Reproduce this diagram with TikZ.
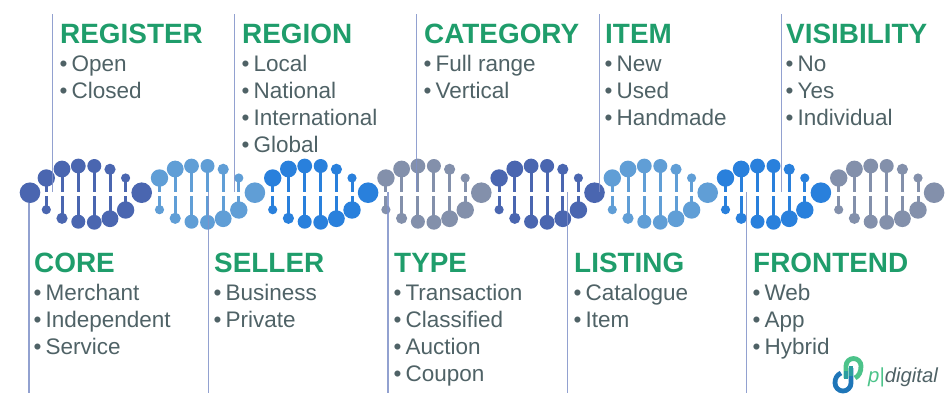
\documentclass[tikz,border=0pt]{standalone}
\usepackage{fontspec}
\setmainfont{Liberation Sans}
\usetikzlibrary{positioning}
\definecolor{dnaDark}{HTML}{4A66B0}
\definecolor{dnaLight}{HTML}{609ED6}
\definecolor{dnaBlue}{HTML}{2980DC}
\definecolor{dnaGrey}{HTML}{8390AB}
\definecolor{headGreen}{HTML}{1F9D6B}
\definecolor{itemGrey}{HTML}{4F6266}
\definecolor{tickBlue}{HTML}{7F90C8}
\definecolor{logoGreen}{HTML}{4CC38A}
\definecolor{logoTeal}{HTML}{2A9DA0}
\definecolor{logoBlue}{HTML}{1F76B8}
\tikzset{
  heading/.style={anchor=base west, inner sep=0pt, text=headGreen, font=\fontsize{27.9}{30}\selectfont\bfseries},
  itemtext/.style={anchor=base west, inner sep=0pt, text=itemGrey, font=\fontsize{22.5}{25}\selectfont},
  tick/.style={draw=tickBlue, line width=1.4pt, opacity=0.85},
  rung/.style={line width=3pt},
  logostroke/.style={line width=4.8pt},
}
% one heading with its bullet list under it
\newcommand{\labelblock}[5]{
  \node[heading] (#1) at (#2,#3) {#4};
  \foreach \txt [count=\i] in {#5}
    \node[itemtext] (#1-\i) at (#2-0.5,#3+1+27*\i) {•\hspace{4pt}\txt};
}
\begin{document}
\begin{tikzpicture}[x=1pt,y=-1pt]
\useasboundingbox (0,0) rectangle (945,400);

% helix, four colours repeated
\foreach \col [count=\k from 0] in {dnaDark,dnaLight,dnaBlue,dnaGrey,dnaDark,dnaLight,dnaBlue,dnaGrey} {
  \pgfmathsetmacro{\xs}{46.3+113.2*\k}
  \begin{scope}[shift={(\xs,0)}]
    \foreach \dx/\ya/\ra/\yb/\rb in {0/178/8.7/209.7/4.6, 15.7/169/8.4/218.3/5.6, 32/166/7.4/221.7/7, 48/166/7/222.3/7.4, 63.7/169.3/5.6/218.7/8.4, 79.3/178/4.6/210/8.7} {
      \draw[rung, \col] (\dx,\ya) -- (\dx,191.5);
      \draw[rung, \col] (\dx,196) -- (\dx,\yb);
      \fill[\col] (\dx,\ya) circle (\ra);
      \fill[\col] (\dx,\yb) circle (\rb);
    }
    \fill[\col] (95.4,192.7) circle (10.3);
  \end{scope}
}
\fill[dnaDark] (30,192.7) circle (10.3);

\labelblock{register}{60}{43}{REGISTER}{Open,Closed}
\labelblock{region}{242}{43}{REGION}{Local,National,International,Global}
\labelblock{category}{424}{43}{CATEGORY}{Full range,Vertical}
\labelblock{itemhead}{605}{43}{ITEM}{New,Used,Handmade}
\labelblock{visibility}{786}{43}{VISIBILITY}{No,Yes,Individual}

\labelblock{core}{34}{272}{CORE}{Merchant,Independent,Service}
\labelblock{seller}{214}{272}{SELLER}{Business,Private}
\labelblock{type}{394}{272}{TYPE}{Transaction,Classified,Auction,Coupon}
\labelblock{listing}{574}{272}{LISTING}{Catalogue,Item}
\labelblock{frontend}{753}{272}{FRONTEND}{Web,App,Hybrid}

% ticks
\foreach \x/\nm in {52.5/reg,234.5/rgn,416.7/cat,599.3/itm,781.7/vis} {
  \coordinate (\nm-a) at (\x,14);
  \coordinate (\nm-b) at (\x,192);
  \draw[tick] (\nm-a) -- (\nm-b);
}
\foreach \x/\y/\nm in {29/203/cor,208.7/192/sel,388/192/typ,567.3/192/lst,746.7/192/frn} {
  \coordinate (\nm-a) at (\x,\y);
  \coordinate (\nm-b) at (\x,393);
  \draw[tick] (\nm-a) -- (\nm-b);
}

% logo
\draw[logostroke, logoBlue] (851,368) -- (851,383) arc (0:180:8) .. controls (835,378) and (837,375) .. (841,373);
\draw[logostroke, logoTeal] (851,366) -- (851,376);
\draw[logostroke, logoGreen] (846,378) -- (846,366) arc (180:360:7.5) .. controls (861,372) and (859,376) .. (855,378);
\draw[logostroke, logoTeal] (846,379) -- (846,371);
\node[anchor=base west, inner sep=0pt, font=\fontsize{20.3}{24}\selectfont\itshape, text=itemGrey] (logotext) at (868,382) {\textcolor{logoGreen}{p|}digital};
\end{tikzpicture}
\end{document}
